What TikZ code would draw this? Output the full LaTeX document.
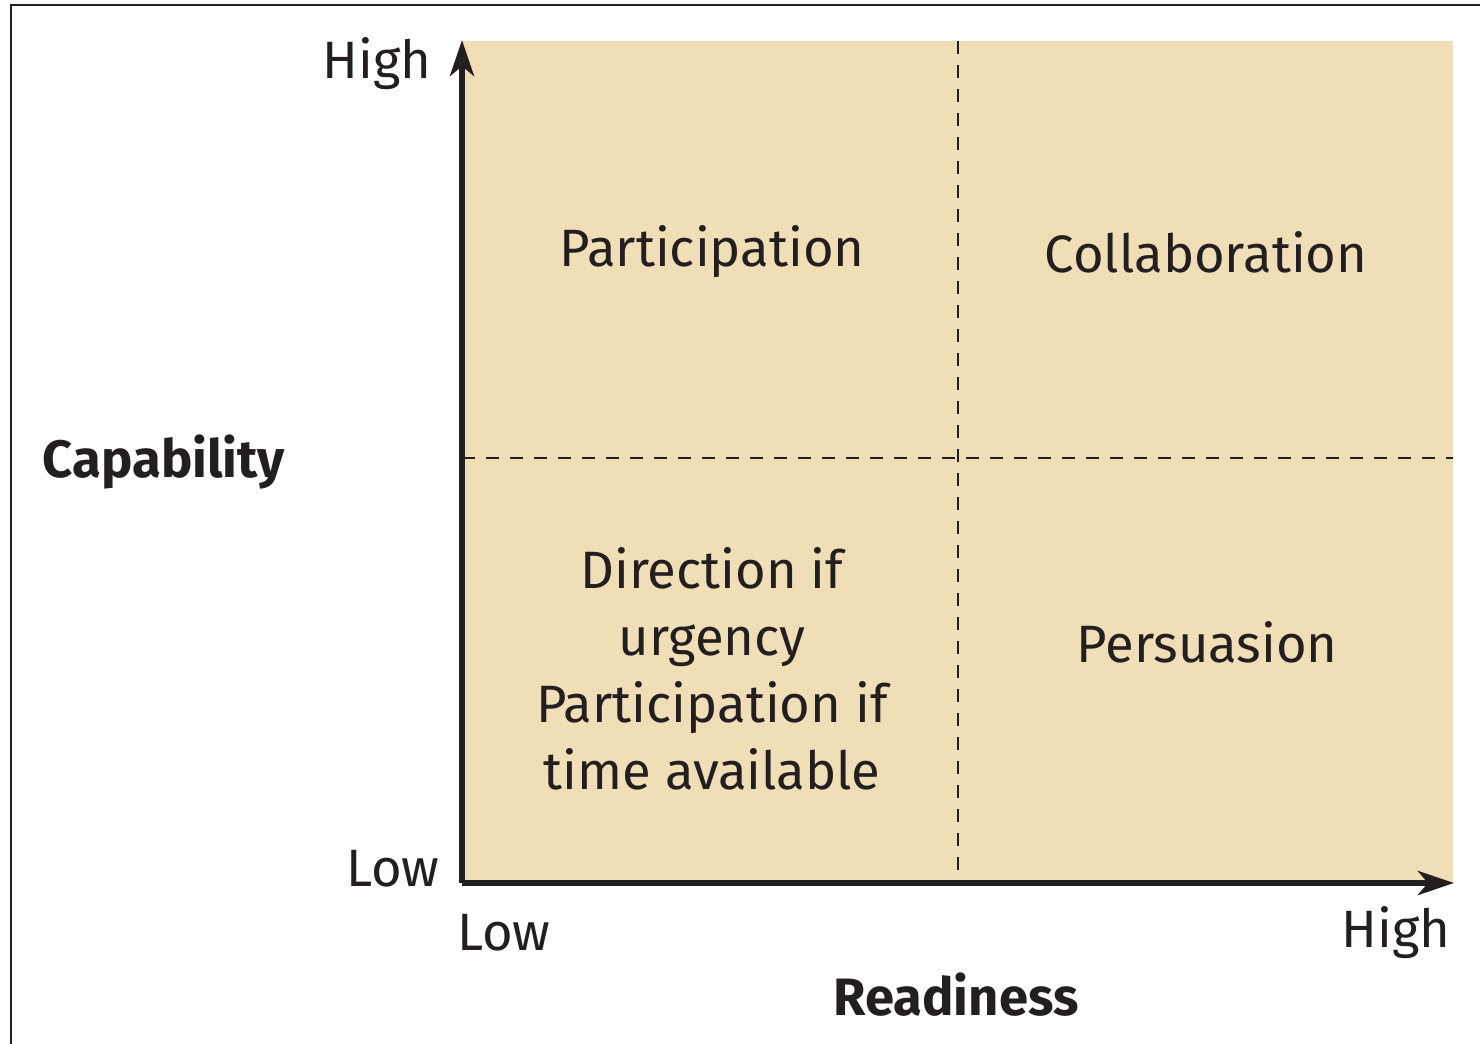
\documentclass[tikz,border=0pt]{standalone}
\usepackage{fontspec}
\setmainfont{Fira Sans}
\usetikzlibrary{arrows.meta}
\definecolor{quadfill}{RGB}{240,222,183}
\definecolor{ink}{RGB}{35,31,32}
\begin{document}
\begin{tikzpicture}[x=0.5pt,y=-0.5pt,
  lbl/.style={font=\fontsize{26.3}{32}\selectfont, text=ink, inner sep=0pt},
  title/.style={font=\fontsize{26.3}{32}\selectfont\bfseries, text=ink, inner sep=0pt},
  axis/.style={line width=3pt, draw=ink, -{Stealth[length=18pt,width=12pt,inset=5pt]}},
  divider/.style={line width=1.4pt, draw=ink, dash pattern=on 6.5pt off 5.5pt}]
\useasboundingbox (0,0) rectangle (1480,1044);
% frame edges
\draw[line width=1.2pt, ink] (11,1044) -- (11,5) -- (1480,5);
% quadrant background
\fill[quadfill] (462,41) rectangle (1453,883);
% dividers
\coordinate (vt) at (958,41);
\coordinate (vb) at (958,883);
\coordinate (hl) at (462,458);
\coordinate (hr) at (1453,458);
\draw[divider] (vt) -- (vb);
\draw[divider] (hl) -- (hr);
% axes
\coordinate (origin) at (462,883);
\coordinate (ytip) at (462,40);
\coordinate (xtip) at (1454,883);
\draw[axis] (origin) -- (ytip);
\draw[axis] (origin) -- (xtip);
% axis labels
\node[lbl] (yhigh) at (377,64) {High};
\node[lbl] (ylow) at (393,869) {Low};
\node[lbl] (xlow) at (504,933) {Low};
\node[lbl] (xhigh) at (1396,933) {High};
\node[title] (ytitle) at (164,462) {Capability};
\node[title] (xtitle) at (956,995) {Readiness};
% quadrant texts
\node[lbl] (q1) at (712,252) {Participation};
\node[lbl] (q2) at (1206,252) {Collaboration};
\node[lbl, align=center, font=\fontsize{26.3}{33.5}\selectfont] (q3) at (712,669) {Direction if\\urgency\\Participation if\\time available};
\node[lbl] (q4) at (1207,642) {Persuasion};
\end{tikzpicture}
\end{document}
